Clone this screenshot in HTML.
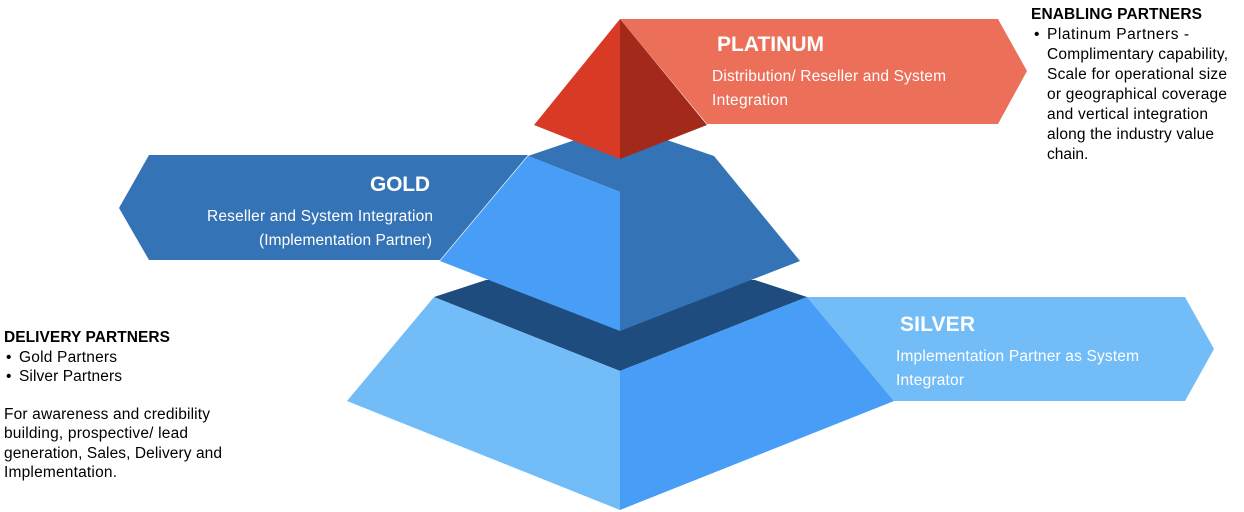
<!DOCTYPE html>
<html><head><style>
body{margin:0;background:#fff;}
svg{display:block;font-family:"Liberation Sans",Arial,sans-serif;}
</style></head><body>
<svg width="1244" height="512" viewBox="0 0 1244 512">
<polygon points="620,19 998,19 1027,71 998,124 707,124" fill="#EC6F5A"/>
<polygon points="807,297 1185,297 1214,349 1185,401 894,401" fill="#72BDF7"/>
<polygon points="149,155 528,155 440,260 149,260 119,208" fill="#3473B5"/>
<polygon points="434,297 486,280 755,280 807,297 620,371" fill="#1F4C7E"/>
<polygon points="434,297 620,371 620,510 347,401" fill="#72BDF7"/>
<polygon points="807,297 894,401 620,510 620,371" fill="#489EF6"/>
<polygon points="528,156 575,140 667,140 714,156 800,261 620,331 620,192" fill="#3473B5"/>
<polygon points="528,156 620,192 620,331 440,261" fill="#489EF6"/>
<polygon points="620,19 534,125 620,159" fill="#D83A26"/>
<polygon points="620,19 707,125 620,159" fill="#A3291A"/>
<g fill="#fff">
<text x="717" y="51" font-size="21" font-weight="bold" textLength="107">PLATINUM</text>
<text x="712" y="81" font-size="15.5" textLength="234">Distribution/ Reseller and System</text>
<text x="712" y="105" font-size="15.5" textLength="76">Integration</text>
<text x="370" y="191" font-size="21" font-weight="bold" textLength="60">GOLD</text>
<text x="207" y="221" font-size="15.5" textLength="226">Reseller and System Integration</text>
<text x="259" y="245" font-size="15.5" textLength="173">(Implementation Partner)</text>
<text x="900" y="331" font-size="21" font-weight="bold" textLength="75">SILVER</text>
<text x="896" y="361" font-size="15.5" textLength="243">Implementation Partner as System</text>
<text x="896" y="385" font-size="15.5" textLength="68">Integrator</text>
</g>
<g fill="#000" font-size="15.5">
<text x="1031" y="19" font-weight="bold" textLength="171">ENABLING PARTNERS</text>
<text x="1034" y="39">•</text>
<text x="1047" y="39" textLength="142">Platinum Partners -</text>
<text x="1047" y="59" textLength="181">Complimentary capability,</text>
<text x="1047" y="79" textLength="180">Scale for operational size</text>
<text x="1047" y="99" textLength="180">or geographical coverage</text>
<text x="1047" y="119" textLength="161">and vertical integration</text>
<text x="1047" y="139" textLength="167">along the industry value</text>
<text x="1047" y="159">chain.</text>
<text x="4" y="342" font-weight="bold" textLength="166">DELIVERY PARTNERS</text>
<text x="6" y="362">•</text>
<text x="19" y="362" textLength="98">Gold Partners</text>
<text x="6" y="381">•</text>
<text x="19" y="381" textLength="103">Silver Partners</text>
<text x="4" y="419" textLength="206">For awareness and credibility</text>
<text x="4" y="438" textLength="184">building, prospective/ lead</text>
<text x="4" y="458" textLength="218">generation, Sales, Delivery and</text>
<text x="4" y="477" textLength="113">Implementation.</text>
</g>
</svg>
</body></html>
